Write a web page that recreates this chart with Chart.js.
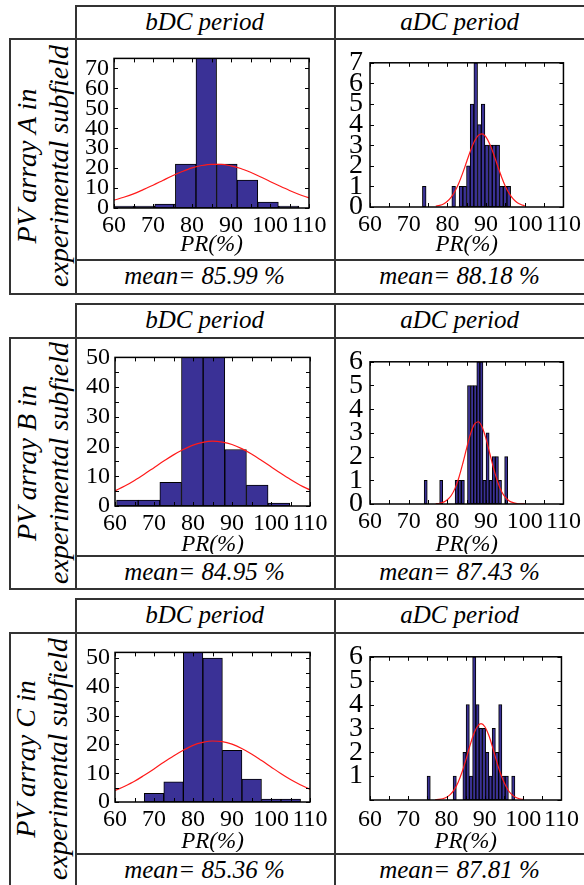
<!DOCTYPE html>
<html>
<head>
<meta charset="utf-8">
<script src="https://cdn.jsdelivr.net/npm/chart.js@4.4.1/dist/chart.umd.min.js"></script>
<style>
  body { margin: 0; background: #fff; }
  #page { position: relative; width: 584px; height: 885px; overflow: hidden;
          font-family: 'Liberation Serif', 'Times New Roman', serif; color: #000; }
  .ln { position: absolute; background: #333; z-index: 2; }
  .cell { position: absolute; display: flex; align-items: center; justify-content: center;
          font-style: italic; font-size: 25px; white-space: nowrap; }
  .side { position: absolute; display: flex; flex-direction: column; align-items: center;
          justify-content: center; font-style: italic; font-size: 28px; line-height: 32px;
          white-space: nowrap; transform: rotate(-90deg); }
  canvas { position: absolute; }
</style>
</head>
<body>
<div id="page"></div>
<script>
// ---- data ----
const arrayNames = ['A', 'B', 'C'];
const periods = ['bDC period', 'aDC period'];
const bdcMeans = ['85.99', '84.95', '85.36'];
const adcMeans = ['88.18', '87.43', '87.81'];

const prLabels = [60, 70, 80, 90, 100, 110];
const prMarks = [60, 65, 70, 75, 80, 85, 90, 95, 100, 105, 110];

// bDC histograms (bin start, bin width, counts)
const bdcStartA = 59.9, bdcWidthA = 5.28;
const bdcCountsA = [1, 1, 2, 22, 80, 22, 14, 3, 1];
const bdcStartB = 60.4, bdcWidthB = 5.55;
const bdcCountsB = [2, 2, 8, 54, 52, 19, 7, 1];
const bdcStartC = 67.5, bdcWidthC = 5.01;
const bdcCountsC = [3, 7, 52, 50, 18, 8, 1, 1];

// aDC histograms
const adcStartA = 73.55, adcWidthA = 0.95;
const adcCountsA = [1, 0, 0, 0, 0, 0, 0, 0, 1, 0, 1, 1, 2, 5, 7, 4, 5, 3, 3, 3, 3, 1, 1, 1];
const adcStartB = 74.0, adcWidthB = 0.8;
const adcCountsB = [1, 0, 0, 0, 0, 1, 0, 0, 0, 0, 1, 1, 1, 0, 5, 5, 5, 6, 6, 1, 3, 1, 2, 2, 1, 0, 2];
const adcStartC = 74.9, adcWidthC = 0.85;
const adcCountsC = [1, 0, 0, 0, 0, 0, 0, 0, 1, 0, 0, 2, 4, 1, 6, 4, 3, 3, 2, 1, 3, 2, 4, 1, 1, 0, 1];

// fitted normal curves (red), read at fixed PR values
const bdcFitX = [60, 62.5, 65, 67.5, 70, 72.5, 75, 77.5, 80, 82.5, 85, 87.5, 90, 92.5, 95, 97.5, 100, 102.5, 105, 107.5, 110];
const bdcFitA = [3.9, 5.4, 7.1, 9.2, 11.4, 13.8, 16.2, 18.3, 20.1, 21.3, 21.9, 21.9, 21.1, 19.8, 17.9, 15.7, 13.3, 11.0, 8.8, 6.8, 5.1];
const bdcFitB = [5.1, 6.7, 8.6, 10.7, 12.9, 15.1, 17.2, 19.0, 20.5, 21.4, 21.8, 21.5, 20.7, 19.3, 17.5, 15.4, 13.2, 11.0, 8.9, 7.0, 5.4];
const bdcFitC = [4.0, 5.5, 7.2, 9.3, 11.5, 13.8, 16.0, 18.0, 19.7, 20.7, 21.2, 21.0, 20.1, 18.6, 16.7, 14.5, 12.2, 9.9, 7.8, 6.0, 4.4];

const adcFitX = [77, 78, 79, 80, 81, 82, 83, 84, 85, 86, 87, 88, 89, 90, 91, 92, 93, 94, 95, 96, 97, 98, 99, 100];
const adcFitA = [0.04, 0.08, 0.15, 0.28, 0.48, 0.78, 1.18, 1.67, 2.21, 2.74, 3.19, 3.48, 3.55, 3.39, 3.03, 2.54, 1.99, 1.46, 1.00, 0.65, 0.39, 0.22, 0.12, 0.06];
const adcFitB = [0.012, 0.032, 0.079, 0.18, 0.36, 0.67, 1.13, 1.72, 2.37, 2.97, 3.37, 3.47, 3.24, 2.75, 2.11, 1.47, 0.93, 0.53, 0.28, 0.13, 0.056, 0.02, 0.007, 0.002];
const adcFitC = [0.009, 0.023, 0.054, 0.117, 0.235, 0.433, 0.736, 1.15, 1.66, 2.22, 2.72, 3.07, 3.2, 3.07, 2.72, 2.22, 1.66, 1.15, 0.74, 0.43, 0.235, 0.117, 0.054, 0.023];

// y tick labels and tick marks
const yLabelsBdcA = [0, 10, 20, 30, 40, 50, 60, 70];
const yLabelsBdc = [0, 10, 20, 30, 40, 50];
const yMarksBdc = [0, 5, 10, 15, 20, 25, 30, 35, 40, 45, 50];
const yLabelsAdcA = [0, 1, 2, 3, 4, 5, 6, 7];
const yLabelsAdcB = [0, 1, 2, 3, 4, 5, 6];
const yLabelsAdcC = [1, 2, 3, 4, 5, 6];
const yMarksAdc6 = [0, 1, 2, 3, 4, 5, 6];

// ---- layout ----
const page = document.getElementById('page');
const serif = "'Liberation Serif', 'Times New Roman', serif";
const barFill = '#3a3196';

const rows = [
  { hTop: 5, bTop: 38, mTop: 259, mBot: 293 },
  { hTop: 303, bTop: 337, mTop: 555, mBot: 588 },
  { hTop: 598, bTop: 632, mTop: 853, mBot: 886 }
];

function line(x, y, w, h) {
  const d = document.createElement('div');
  d.className = 'ln';
  Object.assign(d.style, { left: x + 'px', top: y + 'px', width: w + 'px', height: h + 'px' });
  page.appendChild(d);
}

function cell(x1, x2, y1, y2, text) {
  const d = document.createElement('div');
  d.className = 'cell';
  Object.assign(d.style, { left: x1 + 'px', top: y1 + 'px', width: (x2 - x1) + 'px', height: (y2 - y1) + 'px' });
  d.textContent = text;
  page.appendChild(d);
}

function sideLabel(x1, x2, y1, y2, lines) {
  const w = x2 - x1, h = y2 - y1;
  const d = document.createElement('div');
  d.className = 'side';
  Object.assign(d.style, {
    left: (x1 + w / 2 - h / 2) + 'px', top: (y1 + h / 2 - w / 2) + 'px',
    width: h + 'px', height: w + 'px'
  });
  lines.forEach(t => {
    const s = document.createElement('div');
    s.textContent = t;
    d.appendChild(s);
  });
  page.appendChild(d);
}

rows.forEach((r, i) => {
  line(75, r.hTop, 510, 1.5);
  line(9, r.bTop, 576, 1.5);
  line(75, r.mTop, 510, 1.5);
  line(9, r.mBot, 576, 1.5);
  line(9, r.bTop, 1.5, r.mBot - r.bTop);
  line(75, r.hTop, 1.5, r.mBot - r.hTop);
  line(334, r.hTop, 1.5, r.mBot - r.hTop);
  cell(75, 334, r.hTop, r.bTop, periods[0]);
  cell(334, 585, r.hTop, r.bTop, periods[1]);
  cell(75, 334, r.mTop, r.mBot, 'mean= ' + bdcMeans[i] + ' %');
  cell(334, 585, r.mTop, r.mBot, 'mean= ' + adcMeans[i] + ' %');
  sideLabel(9, 75, r.bTop, r.mBot, ['PV array ' + arrayNames[i] + ' in', 'experimental subfield']);
});

// box with inward tick marks, Matlab style
const frame = {
  id: 'frame',
  afterDatasetsDraw(chart, args, opts) {
    const { ctx, chartArea: a, scales: { x, y } } = chart;
    ctx.save();
    ctx.strokeStyle = '#000';
    ctx.lineWidth = 1;
    ctx.beginPath();
    opts.xMarks.forEach(v => {
      const px = Math.round(x.getPixelForValue(v)) + 0.5;
      ctx.moveTo(px, a.bottom); ctx.lineTo(px, a.bottom - 4);
      ctx.moveTo(px, a.top); ctx.lineTo(px, a.top + 4);
    });
    opts.yMarks.forEach(v => {
      const py = Math.round(y.getPixelForValue(v)) + 0.5;
      ctx.moveTo(a.left, py); ctx.lineTo(a.left + 4, py);
      ctx.moveTo(a.right, py); ctx.lineTo(a.right - 4, py);
    });
    ctx.stroke();
    ctx.lineWidth = 1.5;
    ctx.strokeRect(a.left, a.top, a.right - a.left, a.bottom - a.top);
    ctx.restore();
  }
};

function histogram(c) {
  const cv = document.createElement('canvas');
  cv.width = c.w; cv.height = c.h;
  cv.style.left = c.x + 'px';
  cv.style.top = c.y + 'px';
  page.appendChild(cv);

  const bars = c.counts.map((n, i) => ({ x: c.start + (i + 0.5) * c.binW, y: n }));
  const fit = c.fitX.map((v, i) => ({ x: v, y: c.fitY[i] }));

  new Chart(cv, {
    type: 'bar',
    data: {
      datasets: [
        { type: 'line', data: fit, borderColor: '#ff1a1a', borderWidth: 1.2, pointRadius: 0,
          cubicInterpolationMode: 'monotone', order: 0 },
        { type: 'bar', data: bars, backgroundColor: barFill, borderColor: '#000', borderWidth: 1,
          borderSkipped: false, barPercentage: 1, categoryPercentage: 1, order: 1 }
      ]
    },
    options: {
      responsive: false,
      animation: false,
      layout: { padding: { top: c.padTop, right: c.padRight, left: 0, bottom: 0 } },
      plugins: {
        legend: { display: false },
        tooltip: { enabled: false },
        frame: { xMarks: prMarks, yMarks: c.yMarks }
      },
      scales: {
        x: {
          type: 'linear', min: 60, max: 110, offset: false,
          grid: { display: false, drawTicks: false }, border: { display: false },
          ticks: {
            stepSize: 10, autoSkip: false, maxRotation: 0, padding: c.xPad || 3,
            color: '#000', font: { family: serif, size: 24 },
            callback: v => prLabels.includes(v) ? v : ''
          },
          title: {
            display: true, text: 'PR(%)', color: '#000',
            font: { family: serif, size: 23, style: 'italic', lineHeight: 1 },
            padding: { top: 0, bottom: c.titlePb }
          },
          afterFit: s => { s.height = c.xh; }
        },
        y: {
          min: 0, max: c.yMax,
          grid: { display: false, drawTicks: false }, border: { display: false },
          ticks: {
            stepSize: c.yStep, includeBounds: false, autoSkip: false, padding: c.yPad,
            color: '#000', font: { family: serif, size: c.yFont },
            callback: v => c.yLabels.includes(v) ? v : ''
          },
          afterFit: s => { s.width = c.yw; }
        }
      }
    },
    plugins: [frame]
  });
}

// bDC column
histogram({ x: 76, y: 39, w: 257, h: 219, padTop: 16, padRight: 24, yw: 38, xh: 50, titlePb: 1.5,
  start: bdcStartA, binW: bdcWidthA, counts: bdcCountsA, fitX: bdcFitX, fitY: bdcFitA,
  yMax: 75, yStep: 10, yLabels: yLabelsBdcA, yMarks: yLabelsBdcA, yFont: 24, yPad: 5 });
histogram({ x: 76, y: 338, w: 257, h: 216, padTop: 16, padRight: 23, yw: 39, xh: 48, titlePb: -2.5,
  start: bdcStartB, binW: bdcWidthB, counts: bdcCountsB, fitX: bdcFitX, fitY: bdcFitB,
  yMax: 50, yStep: 10, yLabels: yLabelsBdc, yMarks: yMarksBdc, yFont: 24, yPad: 5 });
histogram({ x: 76, y: 633, w: 257, h: 219, padTop: 16, padRight: 23, yw: 39, xh: 50, titlePb: -1.5,
  start: bdcStartC, binW: bdcWidthC, counts: bdcCountsC, fitX: bdcFitX, fitY: bdcFitC,
  yMax: 52, yStep: 10, yLabels: yLabelsBdc, yMarks: yMarksBdc, yFont: 24, yPad: 5 });

// aDC column
histogram({ x: 335, y: 39, w: 249, h: 219, padTop: 16, padRight: 20, yw: 35, xh: 51, titlePb: 1.5,
  start: adcStartA, binW: adcWidthA, counts: adcCountsA, fitX: adcFitX, fitY: adcFitA,
  yMax: 7, yStep: 1, yLabels: yLabelsAdcA, yMarks: yLabelsAdcA, yFont: 28, yPad: 7 });
histogram({ x: 335, y: 338, w: 249, h: 216, padTop: 15, padRight: 19, yw: 35, xh: 50, titlePb: -2.5,
  start: adcStartB, binW: adcWidthB, counts: adcCountsB, fitX: adcFitX, fitY: adcFitB,
  yMax: 6, yStep: 1, yLabels: yLabelsAdcB, yMarks: yMarksAdc6, yFont: 28, yPad: 7 });
histogram({ x: 335, y: 633, w: 249, h: 219, padTop: 16, padRight: 20, yw: 35, xh: 52, titlePb: -1.5, xPad: 5,
  start: adcStartC, binW: adcWidthC, counts: adcCountsC, fitX: adcFitX, fitY: adcFitC,
  yMax: 6, yStep: 1, yLabels: yLabelsAdcC, yMarks: yMarksAdc6, yFont: 28, yPad: 7 });
</script>
</body>
</html>
